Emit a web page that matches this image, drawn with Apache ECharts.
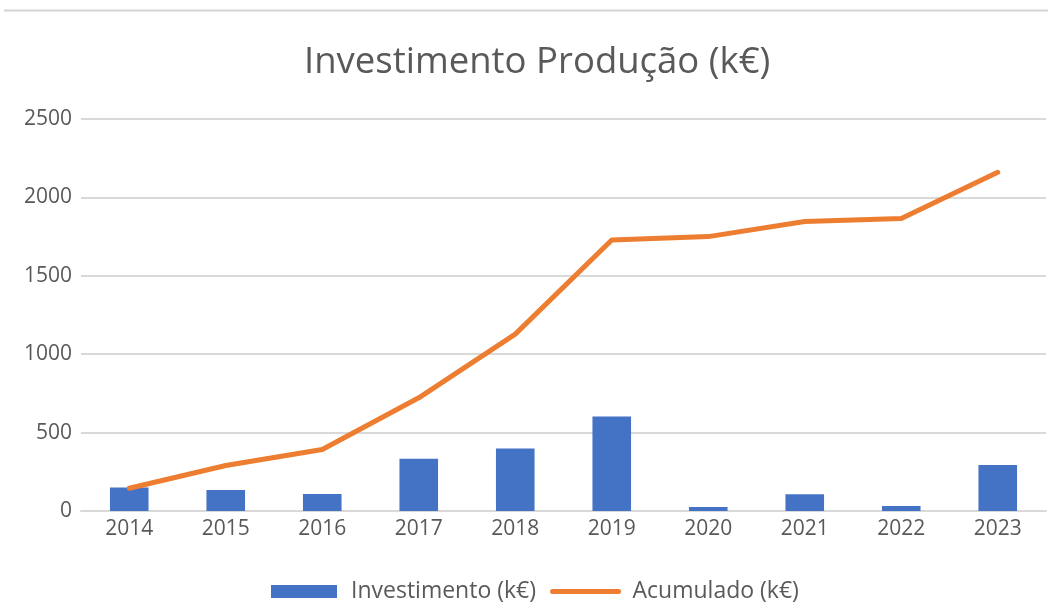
<!DOCTYPE html>
<html>
<head>
<meta charset="utf-8">
<script src="https://cdn.jsdelivr.net/npm/echarts@6/dist/echarts.min.js"></script>
<style>
    html, body {margin: 0; padding: 0; background: #fff;}
    #chart {width: 1048px; height: 606px;}
</style>
</head>
<body>
<div id="chart"></div>
<script>
// Values
const years = ['2014', '2015', '2016', '2017', '2018', '2019', '2020', '2021', '2022', '2023'];
const investimento = [150, 134, 109, 334, 398, 603, 25, 107, 32, 294];
const acumulado = [145, 290, 392, 722, 1128, 1728, 1750, 1846, 1866, 2160];
const yTicks = [0, 500, 1000, 1500, 2000, 2500];

const fontName = 'Open Sans';
const textColor = '#595959';

let myChart = echarts.init(document.getElementById('chart'));
myChart.setOption({
    animation: false,
    title: {
        text: 'Investimento Produção (k€)',
        left: 299,
        top: 39,
        textStyle: {fontFamily: fontName, fontSize: 36.5, fontWeight: 'normal', color: textColor}
    },
    graphic: [{
        type: 'line',
        shape: {x1: 4, y1: 10.5, x2: 1048, y2: 10.5},
        style: {stroke: '#d4d4d4', lineWidth: 2}
    }],
    legend: {
        top: 575,
        left: 266,
        itemWidth: 66,
        itemHeight: 13,
        itemGap: 14,
        textStyle: {fontFamily: fontName, fontSize: 23, color: textColor, padding: [0, 0, 0, 9]},
        data: [
            {name: 'Investimento (k€)', icon: 'rect'},
            {name: 'Acumulado (k€)', itemStyle: {opacity: 0}, lineStyle: {width: 5}}
        ]
    },
    grid: {left: 81, right: 2, top: 119, bottom: 95, containLabel: false},
    xAxis: {
        type: 'category',
        data: years,
        axisTick: {show: false},
        axisLine: {lineStyle: {color: '#d9d9d9', width: 2}},
        axisLabel: {fontFamily: fontName, fontSize: 21, color: textColor, margin: 8}
    },
    yAxis: {
        type: 'value',
        min: yTicks[0],
        max: yTicks[yTicks.length - 1],
        interval: 500,
        axisLine: {show: false},
        axisTick: {show: false},
        splitLine: {lineStyle: {color: '#d9d9d9', width: 2}},
        axisLabel: {
            fontFamily: fontName, fontSize: 21, color: textColor, margin: 9,
            formatter: function (v) { return String(v); }
        }
    },
    series: [{
        name: 'Investimento (k€)',
        type: 'bar',
        data: investimento,
        barWidth: '40%',
        itemStyle: {color: '#4472C4'}
    }, {
        name: 'Acumulado (k€)',
        type: 'line',
        data: acumulado,
        symbol: 'none',
        lineStyle: {color: '#ED7D31', width: 5, cap: 'round', join: 'round'},
        itemStyle: {color: '#ED7D31'}
    }]
});
</script>
</body>
</html>
